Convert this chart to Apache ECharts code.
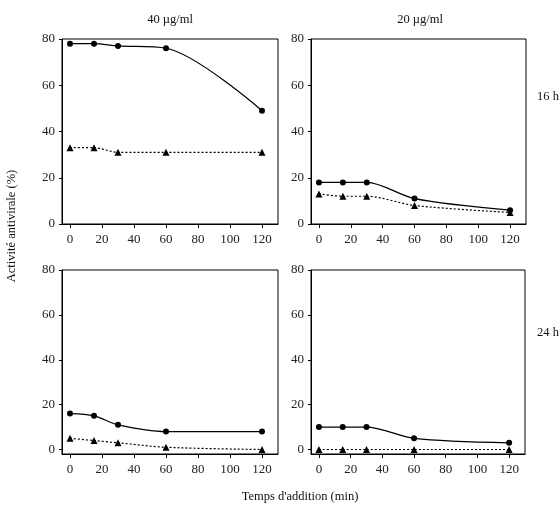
<!DOCTYPE html>
<html>
<head>
<meta charset="utf-8">
<script src="https://cdn.jsdelivr.net/npm/echarts@6/dist/echarts.min.js"></script>
<style>html,body{margin:0;padding:0;background:#fff;}#c{width:560px;height:513px;}</style>
</head>
<body>
<div id="c"></div>
<script>
var times = [0, 15, 30, 60, 120];
var xTicks = [0, 20, 40, 60, 80, 100, 120];
var yTicks = [0, 20, 40, 60, 80];
var colTitles = ['40 µg/ml', '20 µg/ml'];
var rowTitles = ['16 h', '24 h'];
// panel order: top-left, top-right, bottom-left, bottom-right
var circ40_16 = [78, 78, 77, 76, 49];
var tri40_16 = [33, 33, 31, 31, 31];
var circ20_16 = [18, 18, 18, 11, 6];
var tri20_16 = [13, 12, 12, 8, 5];
var circ40_24 = [16, 15, 11, 8, 8];
var tri40_24 = [5, 4, 3, 1, 0];
var circ20_24 = [10, 10, 10, 5, 3];
var tri20_24 = [0, 0, 0, 0, 0];

var circles = [circ40_16, circ20_16, circ40_24, circ20_24];
var triangles = [tri40_16, tri20_16, tri40_24, tri20_24];

var FONT = 'Liberation Serif';
var grids = [
  {left: 62, top: 39, width: 216, height: 185},
  {left: 311, top: 39, width: 215, height: 185},
  {left: 62, top: 270, width: 216, height: 184},
  {left: 311, top: 270, width: 214, height: 184}
];
var yMins = [0, 0, -2, -2];

function pairs(v) { return times.map(function (t, i) { return [t, v[i]]; }); }

function txt(x, y, s, align, rot) {
  var o = {type: 'text', x: x, y: y, style: {text: s, fontFamily: FONT, fontSize: 12.5, fill: '#111', textAlign: align, textVerticalAlign: 'middle'}};
  if (rot) o.rotation = rot;
  return o;
}

var option = {
  animation: false,
  backgroundColor: '#fff',
  grid: grids.map(function (g) {
    return Object.assign({show: true, borderColor: '#000', borderWidth: 1, backgroundColor: 'transparent'}, g);
  }),
  xAxis: grids.map(function (g, i) {
    return {
      type: 'value', gridIndex: i, min: -5, max: 130,
      axisLine: {show: true, onZero: false, lineStyle: {color: '#000', width: 1}},
      axisTick: {show: true, length: 4, customValues: xTicks, lineStyle: {color: '#000'}},
      axisLabel: {customValues: xTicks, margin: 9, fontFamily: FONT, fontSize: 13, color: '#222'},
      splitLine: {show: false}
    };
  }),
  yAxis: grids.map(function (g, i) {
    return {
      type: 'value', gridIndex: i, min: yMins[i], max: 80,
      axisLine: {show: true, onZero: false, lineStyle: {color: '#000', width: 1}},
      axisTick: {show: true, length: 3, customValues: yTicks, lineStyle: {color: '#000'}},
      axisLabel: {customValues: yTicks, margin: 7, fontFamily: FONT, fontSize: 13, color: '#222'},
      splitLine: {show: false}
    };
  }),
  graphic: [
    txt(170, 20, colTitles[0], 'center'),
    txt(420, 20, colTitles[1], 'center'),
    txt(537, 97, rowTitles[0], 'left'),
    txt(537, 333, rowTitles[1], 'left'),
    txt(12, 226, 'Activité antivirale (%)', 'center', Math.PI / 2),
    txt(300, 497, "Temps d'addition (min)", 'center')
  ],
  series: []
};

for (var i = 0; i < 4; i++) {
  option.series.push({
    type: 'line', xAxisIndex: i, yAxisIndex: i, data: pairs(circles[i]),
    smooth: 0.3, symbol: 'circle', symbolSize: 6,
    lineStyle: {color: '#000', width: 1.2, type: 'solid'},
    itemStyle: {color: '#000'}, z: 3
  });
  option.series.push({
    type: 'line', xAxisIndex: i, yAxisIndex: i, data: pairs(triangles[i]),
    smooth: 0.3, symbol: 'triangle', symbolSize: 7,
    lineStyle: {color: '#000', width: 1.2, type: [2, 2]},
    itemStyle: {color: '#000'}, z: 3
  });
}

var chart = echarts.init(document.getElementById('c'), null, {renderer: 'canvas'});
chart.setOption(option);
</script>
</body>
</html>
